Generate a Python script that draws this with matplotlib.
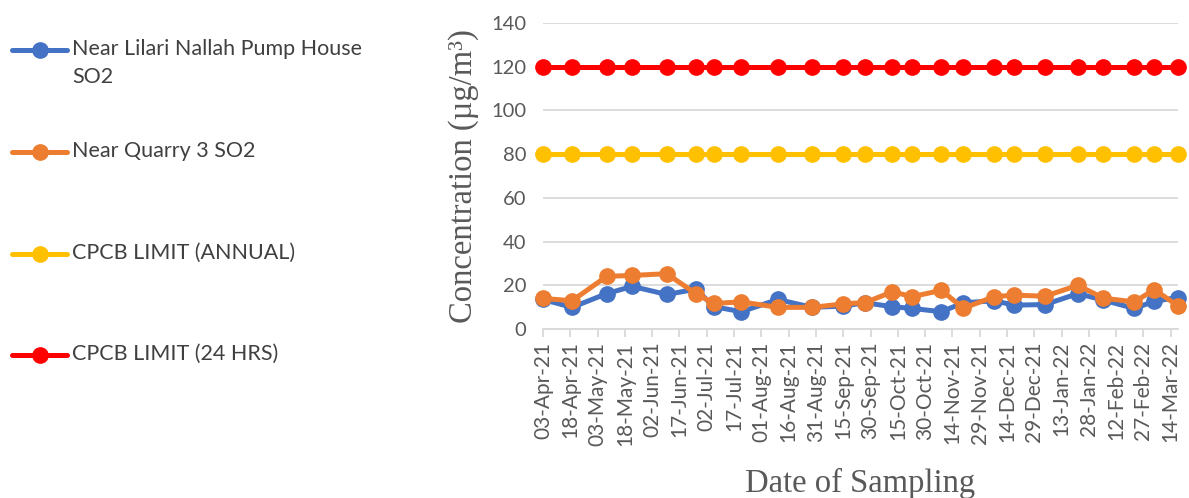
import matplotlib
matplotlib.use("Agg")
import matplotlib.pyplot as plt
from matplotlib.lines import Line2D
import pandas as pd

# sampling dates
dates = pd.to_datetime([
    "2021-04-03", "2021-04-19", "2021-05-08", "2021-05-22", "2021-06-10",
    "2021-06-26", "2021-07-06", "2021-07-21", "2021-08-10", "2021-08-29",
    "2021-09-15", "2021-09-27", "2021-10-12", "2021-10-23", "2021-11-08",
    "2021-11-20", "2021-12-07", "2021-12-18", "2022-01-04", "2022-01-22",
    "2022-02-05", "2022-02-22", "2022-03-05", "2022-03-18",
])

lilari_so2 = [13.5, 9.9, 16.2, 19.5, 15.8, 18.2, 10.2, 7.9, 13.5, 9.9,
              10.5, 12.0, 10.2, 9.4, 7.9, 12.0, 12.9, 10.9, 11.2, 16.2,
              13.2, 9.4, 12.7, 14.4]
quarry_so2 = [14.0, 12.9, 24.1, 24.5, 25.3, 16.2, 11.7, 12.4, 9.9, 9.9,
              11.5, 12.1, 17.0, 14.8, 17.7, 9.5, 14.8, 15.5, 15.0, 20.0,
              14.1, 12.4, 18.0, 10.6]
cpcb_annual = [80] * len(dates)
cpcb_24hrs = [120] * len(dates)

tick_labels = [
    "03-Apr-21", "18-Apr-21", "03-May-21", "18-May-21", "02-Jun-21",
    "17-Jun-21", "02-Jul-21", "17-Jul-21", "01-Aug-21", "16-Aug-21",
    "31-Aug-21", "15-Sep-21", "30-Sep-21", "15-Oct-21", "30-Oct-21",
    "14-Nov-21", "29-Nov-21", "14-Dec-21", "29-Dec-21", "13-Jan-22",
    "28-Jan-22", "12-Feb-22", "27-Feb-22", "14-Mar-22",
]

series = [
    ("Near Lilari Nallah Pump House\nSO2", lilari_so2, "#4472C4"),
    ("Near Quarry 3 SO2", quarry_so2, "#ED7D31"),
    ("CPCB LIMIT (ANNUAL)", cpcb_annual, "#FFC000"),
    ("CPCB LIMIT (24 HRS)", cpcb_24hrs, "#FF0000"),
]

W, H = 1189, 498
fig = plt.figure(figsize=(W / 100, H / 100), dpi=100)
ax = fig.add_axes([543 / W, 1 - 329 / H, (1178 - 543) / W, (329 - 23) / H])

lw = 3.6
ms = 11
for label, vals, color in series:
    ax.plot(dates, vals, color=color, lw=lw, marker="o", ms=ms,
            solid_capstyle="round", clip_on=False)

ax.set_ylim(0, 140)
ax.set_yticks(range(0, 141, 20))
ax.set_xlim(dates[0], dates[-1])
ax.set_xticks(pd.to_datetime(tick_labels, format="%d-%b-%y"))
ax.set_xticklabels(tick_labels, rotation=90)

tick_font = "Lato"
for t in ax.get_xticklabels():
    t.set_fontfamily(tick_font)
    t.set_fontsize(15)
    t.set_color("#595959")
for t in ax.get_yticklabels():
    t.set_fontfamily(tick_font)
    t.set_fontsize(14.5)
    t.set_color("#595959")

ax.grid(axis="y", color="#D9D9D9", lw=1.3)
ax.set_axisbelow(True)
for side in ["top", "right", "left"]:
    ax.spines[side].set_visible(False)
ax.spines["bottom"].set_color("#D9D9D9")
ax.spines["bottom"].set_linewidth(1.3)
ax.tick_params(axis="x", color="#D9D9D9", width=1.3, length=6, pad=3)
ax.tick_params(axis="y", length=0, pad=12)

ax.set_ylabel("Concentration (\u00b5g/m\u00b3)", family="Liberation Serif",
              fontsize=23.5, color="#595959", labelpad=9)
ax.set_xlabel("Date of Sampling", family="Liberation Serif",
              fontsize=23.5, color="#595959", labelpad=16)

# legend drawn on the left side
leg_y = [50, 152, 254, 355]
for (label, vals, color), y in zip(series, leg_y):
    yf = 1 - y / H
    fig.add_artist(Line2D([12 / W, 67 / W], [yf, yf], color=color, lw=lw,
                          solid_capstyle="round", transform=fig.transFigure))
    fig.add_artist(Line2D([40 / W], [yf], color=color, marker="o", ms=ms,
                          transform=fig.transFigure))
    fig.text(72 / W, yf + 11 / H, label, family=tick_font, fontsize=15.5,
             color="#404040", va="top", ha="left", linespacing=1.5)

fig.savefig("out.png", dpi=100)
